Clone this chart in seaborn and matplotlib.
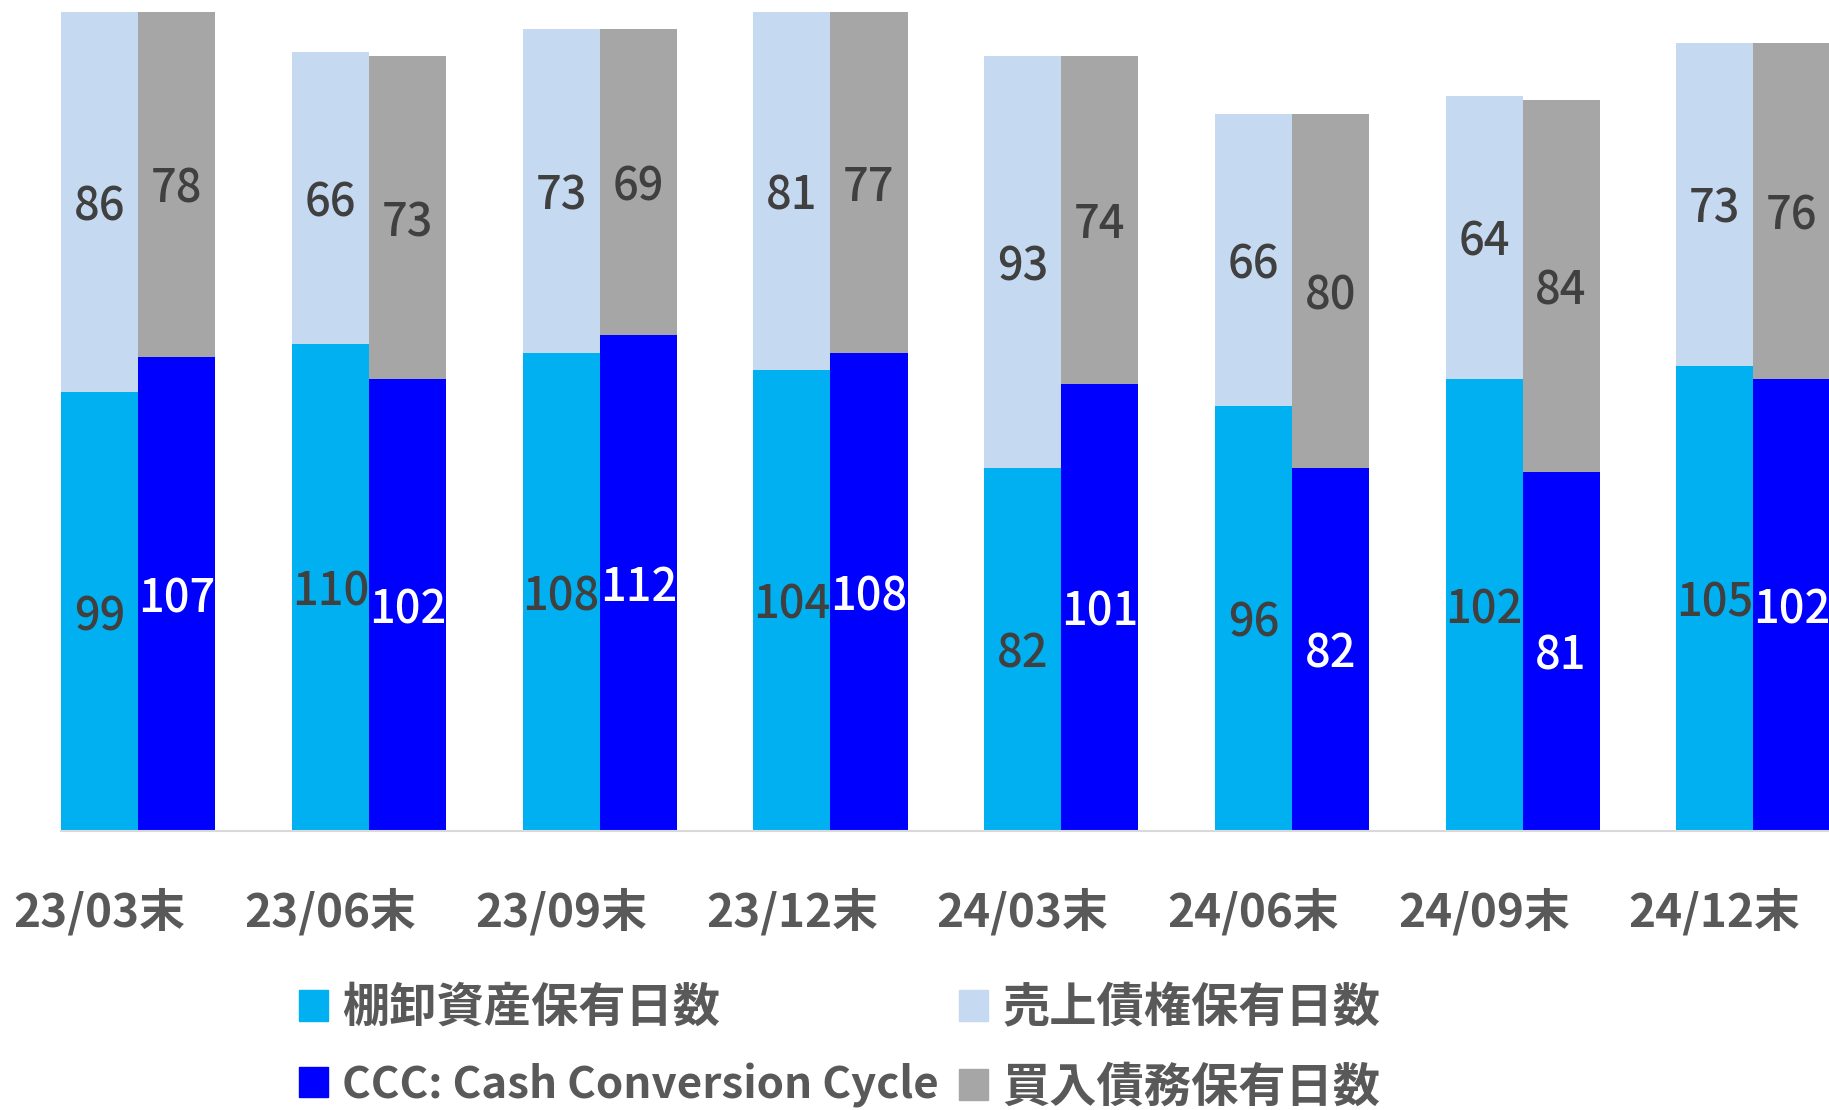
import numpy as np
import pandas as pd
import seaborn as sns
import matplotlib.pyplot as plt
from matplotlib.patches import Patch

# data (days)
periods = ['23/03末', '23/06末', '23/09末', '23/12末', '24/03末', '24/06末', '24/09末', '24/12末']
inventory_days = [99, 110, 108, 104, 82, 96, 102, 105]
receivable_days = [86, 66, 73, 81, 93, 66, 64, 73]
ccc_days = [107, 102, 112, 108, 101, 82, 81, 102]
payable_days = [78, 73, 69, 77, 74, 80, 84, 76]

c_inv = '#00B0F0'
c_rec = '#C5D9F1'
c_ccc = '#0000FF'
c_pay = '#A6A6A6'

sns.set_theme(style='white')
plt.rcParams['font.family'] = ['Noto Sans CJK JP', 'DejaVu Sans']

# long tables: one for the full stack height, one for the bottom part
top_df = pd.DataFrame({
    'period': periods * 2,
    'side': ['L'] * 8 + ['R'] * 8,
    'value': [a + b for a, b in zip(inventory_days, receivable_days)]
             + [a + b for a, b in zip(ccc_days, payable_days)],
})
bottom_df = pd.DataFrame({
    'period': periods * 2,
    'side': ['L'] * 8 + ['R'] * 8,
    'value': inventory_days + ccc_days,
})

W, H = 1829, 1110
fig = plt.figure(figsize=(W / 100, H / 100), dpi=100)
ax_left = 61.3 / W
ax_bottom = (H - 830.7) / H
ax = fig.add_axes([ax_left, ax_bottom, 1 - ax_left, 1 - ax_bottom])

bar_w = 0.668
sns.barplot(data=top_df, x='period', y='value', hue='side', order=periods,
            hue_order=['L', 'R'], palette={'L': c_rec, 'R': c_pay},
            width=bar_w, saturation=1, linewidth=0, legend=False, ax=ax)
sns.barplot(data=bottom_df, x='period', y='value', hue='side', order=periods,
            hue_order=['L', 'R'], palette={'L': c_inv, 'R': c_ccc},
            width=bar_w, saturation=1, linewidth=0, legend=False, ax=ax)

# containers: 0 = rec tops, 1 = pay tops, 2 = inventory, 3 = ccc
tops_l, tops_r, bots_l, bots_r = ax.containers[:4]
lab_size = 32.5
for bars, lows, highs, col_low in [(zip(tops_l, bots_l), inventory_days, receivable_days, '#404040'),
                                  (zip(tops_r, bots_r), ccc_days, payable_days, '#FFFFFF')]:
    for (pt, pb), lo, hi in zip(bars, lows, highs):
        x = pb.get_x() + pb.get_width() / 2
        ax.text(x, lo / 2, f'{lo}', ha='center', va='center_baseline',
                fontsize=lab_size, color=col_low, fontweight='medium')
        ax.text(x, lo + hi / 2, f'{hi}', ha='center', va='center_baseline',
                fontsize=lab_size, color='#404040', fontweight='medium')

half = bar_w / 4
ax.set_xlim(-bar_w / 2, -bar_w / 2 + (W - 61.3) / 230.7)
ax.set_ylim(0, 830.7 / 4.427)
ax.set_xticks(np.arange(len(periods)) - half, periods)
ax.tick_params(axis='x', length=0, pad=42, labelsize=33, labelcolor='#595959')
for t in ax.get_xticklabels():
    t.set_fontweight('semibold')
ax.set_yticks([])
ax.set_xlabel('')
ax.set_ylabel('')
for s in ['left', 'right', 'top']:
    ax.spines[s].set_visible(False)
ax.spines['bottom'].set_color('#D9D9D9')
ax.spines['bottom'].set_linewidth(1.5)

leg_kw = dict(frameon=False, labelcolor='#595959', loc='upper left',
              prop={'size': 34, 'weight': 'semibold'},
              handlelength=0.62, handleheight=0.62, handletextpad=0.3,
              borderpad=0, borderaxespad=0, labelspacing=0.66)
leg1 = fig.legend(handles=[Patch(color=c_inv, label='棚卸資産保有日数'),
                           Patch(color=c_ccc, label='CCC: Cash Conversion Cycle')],
                  bbox_to_anchor=(299 / W, 1 - 984 / H), **leg_kw)
leg1.get_texts()[1].set_fontsize(31.6)
leg2 = fig.legend(handles=[Patch(color=c_rec, label='売上債権保有日数'),
                           Patch(color=c_pay, label='買入債務保有日数')],
                  bbox_to_anchor=(959 / W, 1 - 984 / H), **leg_kw)

fig.savefig('out.png', dpi=100)
